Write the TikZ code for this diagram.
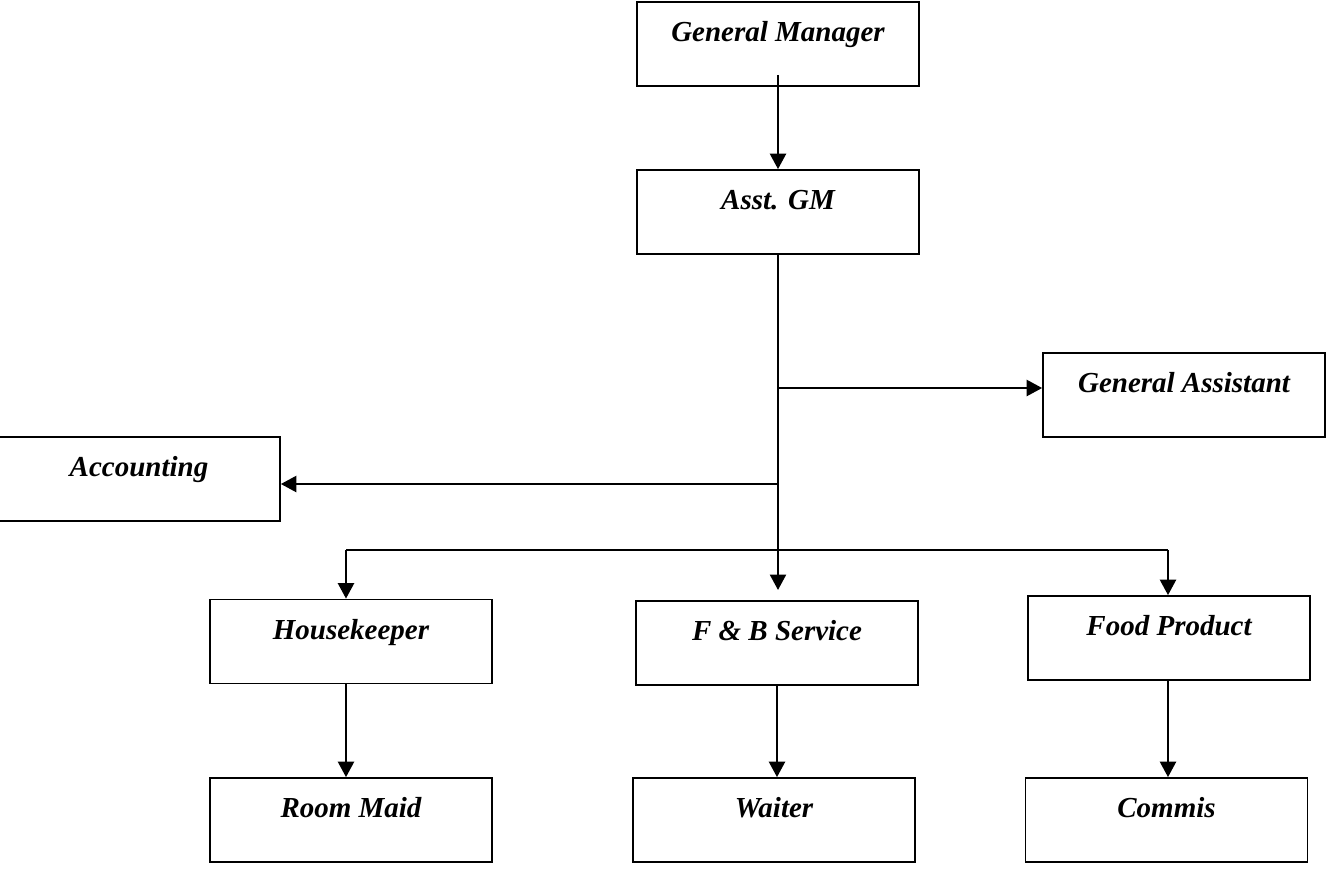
\documentclass[tikz,border=0pt]{standalone}
\usepackage{fontspec}
\setmainfont{Liberation Serif}
\usepackage{tikz}
\usetikzlibrary{arrows.meta, calc}

\begin{document}
\begin{tikzpicture}[
  x=0.02cm, y=-0.02cm,
  post/.style={draw, line width=1pt, minimum width=5.64cm, minimum height=1.68cm, inner sep=0pt,
    text height=12pt, text depth=14.6pt, font=\fontsize{16.5}{20}\selectfont\bfseries\itshape},
  arr/.style={-{Triangle[length=3.1mm, width=3.2mm]}, line width=1.4pt},
  link/.style={line width=0.9pt}
]
\useasboundingbox (0,0) rectangle (1328,870);

\node[post] (gm) at (778, 44) {General Manager};
\node[post] (agm) at (778, 212) {Asst. GM};
\node[post] (ga) at (1184, 395) {General Assistant};
\node[post] (acc) at (139, 479) {Accounting};
\node[post] (hk) at (351, 641.5) {Housekeeper};
\node[post] (fb) at (777, 643) {F \& B Service};
\node[post] (food) at (1169, 638) {Food Product};
\node[post] (maid) at (351, 820) {Room Maid};
\node[post] (waiter) at (774, 820) {Waiter};
\node[post] (commis) at (1166.5, 820) {Commis};

\coordinate (toga) at (778, 388);
\coordinate (toacc) at (778, 484);
\coordinate (bar) at (778, 550);
\coordinate (barL) at (346, 550);
\coordinate (barR) at (1168, 550);

\draw[arr] ($(gm.south)+(0,-12)$) -- (agm.north);
\draw[link] (agm.south) -- (bar);
\draw[arr] (toga) -- (toga -| ga.west);
\draw[arr] (toacc) -- (toacc -| acc.east);
\draw[arr] (bar) -- ++(0,40);
\draw[link] (barL) -- (barR);
\draw[arr] (barL) -- (barL |- hk.north);
\draw[arr] (barR) -- (barR |- food.north);
\draw[arr] (barL |- hk.south) -- (barL |- maid.north);
\draw[arr] (fb.south) -- (fb.south |- waiter.north);
\draw[arr] (barR |- food.south) -- (barR |- commis.north);

\end{tikzpicture}
\end{document}
